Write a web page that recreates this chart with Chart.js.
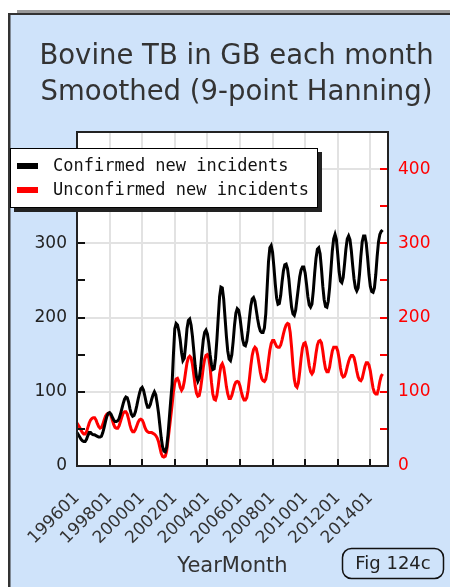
<!DOCTYPE html>
<html><head><meta charset="utf-8">
<script src="https://cdn.jsdelivr.net/npm/chart.js@4.4.1/dist/chart.umd.min.js"></script>
<style>html,body{margin:0;padding:0;background:#fff;overflow:hidden}#wrap{width:450px;height:587px;position:relative}</style>
</head><body><div id="wrap"><canvas id="c" width="450" height="587"></canvas></div>
<script>
// ---- categories (YearMonth) ----
const START_YEAR = 1996, N_MONTHS = 230;
const months = [];
for (let i = 0; i < N_MONTHS; i++) {
  const yr = START_YEAR + Math.floor(i / 12), mo = (i % 12) + 1;
  months.push(String(yr) + String(mo).padStart(2, '0'));
}
const xTickLabels = ['199601','199801','200001','200201','200401','200601','200801','201001','201201','201401'];
const yTickMarks = [0,50,100,150,200,250,300,350,400,450];
const seriesNames = ['Confirmed new incidents', 'Unconfirmed new incidents'];

// ---- series values (monthly, smoothed) ----
const confirmed = [
45,42,39,36,34,33,33,36,41,45,
45,43,42,42,41,40,39,39,40,45,
52,60,67,71,72,70,66,62,60,60,
61,64,70,77,84,90,93,92,86,77,
70,67,68,73,81,90,98,104,106,102,
94,85,79,79,83,90,96,100,96,85,
72,55,38,26,20,19,25,42,65,88,
110,150,185,192,190,182,170,153,142,145,
163,185,196,198,190,175,155,135,120,114,
118,132,152,170,180,183,178,166,150,137,
130,131,145,170,200,228,241,240,225,200,
175,155,144,142,150,168,190,206,212,210,
200,185,170,163,162,168,182,200,216,225,
227,222,210,198,188,182,180,180,186,205,
240,275,294,297,288,268,245,226,218,219,
230,248,263,271,272,266,252,232,214,205,
203,210,225,240,255,264,268,268,260,245,
228,217,214,218,236,260,280,292,294,286,
266,242,224,215,214,222,240,265,290,306,
312,305,285,262,249,247,254,272,292,306,
310,305,290,270,252,240,236,240,258,282,
302,310,310,300,280,258,242,235,234,240,
258,282,302,312,316,318
];
const unconfirmed = [
58,55,52,48,45,43,43,46,52,58,
62,64,65,65,62,57,53,51,52,56,
62,67,70,71,71,68,62,56,52,51,
51,54,60,66,71,73,73,70,63,55,
49,46,46,49,54,59,62,63,62,58,
52,48,46,45,45,45,44,43,41,38,
33,25,17,13,12,13,20,35,50,66,
82,100,112,117,118,114,106,102,105,114,
127,139,146,148,146,137,123,108,98,94,
95,104,118,133,144,149,150,146,133,113,
97,90,89,95,108,124,135,138,133,121,
107,97,91,91,95,102,109,113,114,113,
108,100,93,89,89,92,102,118,135,149,
157,160,158,150,138,126,118,115,114,117,
127,142,156,165,169,169,165,161,160,160,
163,170,178,185,190,192,191,180,160,136,
117,108,106,112,127,145,159,165,166,160,
148,135,127,124,127,138,152,163,168,169,
166,155,141,131,127,127,133,145,155,160,
160,160,155,145,132,123,120,121,126,134,
141,146,149,149,146,138,128,120,116,115,
118,126,134,139,139,136,128,116,105,99,
97,97,104,114,121,124
];

const GRID = '#e2e2e2';
const FONT = 'DejaVu Sans';

const panelPlugin = {
  id: 'panel',
  beforeDraw(chart) {
    const {ctx, chartArea: a} = chart;
    ctx.save();
    ctx.fillStyle = '#fff'; ctx.fillRect(0, 0, 450, 587);
    ctx.fillStyle = '#9a9a9a'; ctx.fillRect(17, 10, 433, 3.5);
    ctx.fillStyle = '#cfe3fa'; ctx.fillRect(9, 13, 441, 574);
    ctx.fillStyle = '#333'; ctx.fillRect(8, 13, 442, 2); ctx.fillRect(8, 13, 2.5, 574);
    ctx.fillStyle = '#fff'; ctx.fillRect(a.left, a.top, a.right - a.left, a.bottom - a.top);
    ctx.restore();
  }
};

const overlayPlugin = {
  id: 'overlay',
  afterDatasetsDraw(chart) {
    const {ctx, chartArea: a, scales} = chart;
    ctx.save();
    ctx.lineWidth = 2;
    ctx.strokeStyle = '#111';
    for (const v of yTickMarks) {
      const py = Math.round(scales.y.getPixelForValue(v));
      ctx.beginPath(); ctx.moveTo(a.left, py); ctx.lineTo(a.left + 8, py); ctx.stroke();
    }
    ctx.strokeStyle = '#ff0000';
    for (const v of yTickMarks) {
      const py = Math.round(scales.y1.getPixelForValue(v));
      ctx.beginPath(); ctx.moveTo(a.right - 8, py); ctx.lineTo(a.right, py); ctx.stroke();
    }
    ctx.strokeStyle = '#111';
    scales.x.ticks.forEach((t, i) => {
      const px = Math.round(scales.x.getPixelForTick(i));
      ctx.beginPath(); ctx.moveTo(px, a.bottom); ctx.lineTo(px, a.bottom - 7); ctx.stroke();
    });
    ctx.strokeStyle = '#222';
    ctx.strokeRect(a.left, a.top, a.right - a.left, a.bottom - a.top);
    ctx.restore();
  },
  afterDraw(chart) {
    const {ctx} = chart;
    ctx.save();
    // legend box
    const bx = 10, by = 148, bw = 308, bh = 60;
    ctx.fillStyle = '#222'; ctx.fillRect(bx + 4, by + 4, bw, bh);
    ctx.fillStyle = '#fff'; ctx.fillRect(bx, by, bw, bh);
    ctx.strokeStyle = '#000'; ctx.lineWidth = 1; ctx.strokeRect(bx + 0.5, by + 0.5, bw - 1, bh - 1);
    ctx.font = '17px "DejaVu Sans Mono"'; ctx.textBaseline = 'alphabetic'; ctx.textAlign = 'left';
    chart.data.datasets.forEach((ds, i) => {
      ctx.fillStyle = ds.borderColor; ctx.fillRect(17, 163 + i * 24, 21, 6);
      ctx.fillStyle = '#111'; ctx.fillText(ds.label, 53, 171 + i * 24);
    });
    // Fig box
    ctx.beginPath(); ctx.roundRect(342.5, 548.5, 101, 30, 9);
    ctx.strokeStyle = '#111'; ctx.lineWidth = 1.5; ctx.stroke();
    ctx.fillStyle = '#222'; ctx.font = '18px "DejaVu Sans"'; ctx.textAlign = 'center'; ctx.textBaseline = 'middle';
    ctx.fillText('Fig 124c', 393, 564);
    ctx.restore();
  }
};

new Chart(document.getElementById('c'), {
  type: 'line',
  data: {
    labels: months,
    datasets: [
      { label: seriesNames[0], data: confirmed, borderColor: '#000000', borderWidth: 3, pointRadius: 0, yAxisID: 'y', tension: 0 },
      { label: seriesNames[1], data: unconfirmed, borderColor: '#ff0000', borderWidth: 3, pointRadius: 0, yAxisID: 'y1', tension: 0 }
    ]
  },
  options: {
    responsive: false, animation: false, devicePixelRatio: 1,
    layout: { padding: { left: 23, right: 0, top: 0, bottom: 0 } },
    plugins: {
      legend: { display: false }, tooltip: { enabled: false },
      title: { display: true, text: ['Bovine TB in GB each month', 'Smoothed (9-point Hanning)'], color: '#333',
        font: { family: FONT, size: 27.5, weight: 'normal', lineHeight: 1.3 }, padding: { top: 39, bottom: 21.5 } }
    },
    scales: {
      x: {
        type: 'category', offset: false,
        afterBuildTicks: s => { s.ticks = s.ticks.filter(t => xTickLabels.includes(months[t.value])); },
        afterFit: s => { s.height = 121; },
        grid: { color: GRID, lineWidth: 2, drawTicks: false },
        border: { display: false },
        ticks: { autoSkip: false, minRotation: 45, maxRotation: 45, padding: 22, color: '#333', font: { family: FONT, size: 17 } },
        title: { display: true, text: 'YearMonth', color: '#333', font: { family: FONT, size: 21 }, padding: { top: 0, bottom: 8 } }
      },
      y: {
        position: 'left', min: 0, max: 450,
        afterFit: s => { s.width = 54; },
        grid: { color: c => (c.tick && c.tick.value > 0) ? GRID : 'rgba(0,0,0,0)', lineWidth: 2, drawTicks: false },
        border: { display: false },
        ticks: { stepSize: 100, includeBounds: false, padding: 10, color: '#222', font: { family: FONT, size: 17 } }
      },
      y1: {
        position: 'right', min: 0, max: 450,
        afterFit: s => { s.width = 62; },
        grid: { drawOnChartArea: false, drawTicks: false },
        border: { display: false },
        ticks: { stepSize: 100, includeBounds: false, padding: 10, color: '#ff0000', font: { family: FONT, size: 17 } }
      }
    }
  },
  plugins: [panelPlugin, overlayPlugin]
});
</script></body></html>
